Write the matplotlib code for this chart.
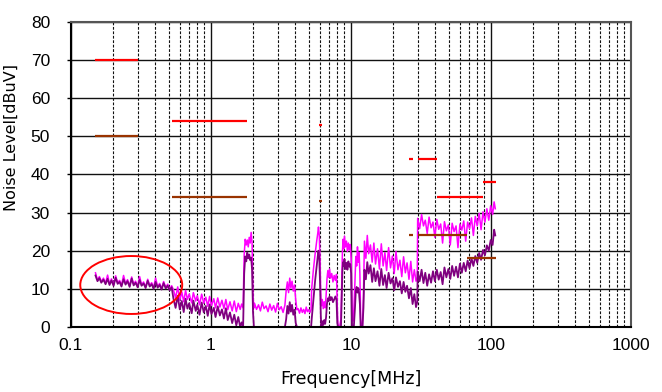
import matplotlib
matplotlib.use("Agg")
import matplotlib.pyplot as plt
from matplotlib.patches import Ellipse
from matplotlib.ticker import LogLocator, FixedLocator, NullFormatter

plt.rcParams['font.family'] = ['Liberation Sans Narrow', 'Liberation Sans', 'DejaVu Sans']

# 测量频点 (MHz)
freq = [
    0.150, 0.155, 0.160, 0.165, 0.171, 0.177, 0.183, 0.189, 0.195, 0.202,
    0.209, 0.216, 0.223, 0.230, 0.238, 0.246, 0.254, 0.263, 0.272, 0.281,
    0.290, 0.300, 0.310, 0.320, 0.331, 0.342, 0.354, 0.366, 0.378, 0.390,
    0.403, 0.417, 0.431, 0.445, 0.460, 0.476, 0.492, 0.508, 0.525,
    0.54, 0.56, 0.58, 0.60, 0.62, 0.64, 0.66, 0.68, 0.70, 0.73,
    0.75, 0.78, 0.80, 0.83, 0.86, 0.89, 0.92, 0.95, 0.98, 1.01,
    1.05, 1.08, 1.12, 1.16, 1.20, 1.24, 1.28, 1.32, 1.37, 1.42,
    1.47, 1.52, 1.57, 1.62, 1.66, 1.70,
    1.73, 1.76, 1.79, 1.82, 1.85, 1.88, 1.91, 1.94, 1.97, 2.00, 2.03,
    2.05, 2.12, 2.19, 2.26, 2.33, 2.40, 2.48, 2.56, 2.64, 2.72,
    2.81, 2.90, 2.99, 3.08, 3.18, 3.28, 3.38,
    3.45, 3.52, 3.59, 3.66, 3.73, 3.80, 3.88, 3.96, 4.04, 4.12,
    4.2, 4.3, 4.4, 4.5, 4.6, 4.7, 4.8, 4.9, 5.0, 5.1, 5.2,
    5.25, 5.4, 5.55, 5.7, 5.8, 5.87, 5.95, 6.02, 6.1,
    6.15, 6.25, 6.35, 6.45, 6.55, 6.65, 6.75, 6.85, 6.95, 7.05,
    7.15, 7.3, 7.45, 7.6, 7.75, 7.9, 8.0, 8.1, 8.3, 8.5,
    8.7, 8.8, 8.9, 9.0, 9.15, 9.3, 9.45, 9.6, 9.75, 9.9,
    10.05, 10.2, 10.35, 10.5, 10.7, 10.85, 11.0, 11.15, 11.3, 11.45,
    11.6, 11.75, 11.9, 12.1, 12.3,
    12.5, 12.8, 13.1, 13.4, 13.8, 14.2, 14.6, 15.0, 15.5, 16.0,
    16.5, 17.0, 17.5, 18.0, 18.6, 19.2, 19.8, 20.4, 21.0, 21.7,
    22.4, 23.1, 23.8, 24.5, 25.2, 26.0, 26.8, 27.6, 28.4, 29.2, 29.8,
    30.0, 31.0, 32.0, 33.0, 34.0, 35.1, 36.2, 37.4, 38.6, 39.8,
    41.1, 42.4, 43.8, 45.2, 46.6, 48.1, 49.7, 51.3, 52.9, 54.6,
    56.4, 58.2, 60.1, 62.0, 64.0, 66.1, 68.2, 70.4, 72.7, 75.0,
    77.4, 79.9, 82.5, 85.1, 87.9, 90.7, 93.6, 96.6, 99.7, 102.9,
    105.5, 107.5,
]

# 峰值检波 (粉色)
peak = [
    14.2, 12.3, 13.2, 11.9, 12.8, 11.5, 13.6, 11.3, 12.6, 11.1,
    13.4, 11.6, 12.2, 10.9, 13.5, 11.4, 12.4, 10.8, 13.1, 11.2,
    12.0, 10.7, 13.2, 11.1, 11.8, 10.5, 12.5, 10.9, 11.6, 10.3,
    12.8, 10.6, 11.4, 10.1, 11.9, 10.4, 11.2, 9.9, 10.8,
    9.8, 7.6, 10.5, 7.0, 9.2, 6.6, 9.6, 7.2, 8.6, 6.3,
    9.0, 6.8, 8.2, 5.8, 8.6, 6.2, 7.8, 5.4, 8.0, 5.6,
    7.4, 5.0, 7.6, 5.2, 7.0, 4.8, 7.2, 4.5, 6.6, 4.2,
    6.8, 4.0, 6.2, 4.6, 6.0, 5.0,
    19.0, 23.0, 21.5, 22.8, 21.0, 23.5, 22.0, 24.8, 22.0, 8.0, 5.0,
    6.2, 4.6, 5.8, 4.2, 6.5, 4.8, 5.5, 4.0, 6.0, 4.4,
    5.6, 3.9, 6.2, 4.5, 5.3, 3.8, 5.7,
    9.5, 11.8, 9.0, 12.8, 10.2, 12.0, 9.4, 11.0, 7.0, 4.5,
    4.8, 3.6, 5.0, 3.8, 4.6, 3.5, 5.2, 4.0, 4.5, 3.8, 4.6,
    10.0, 15.0, 19.0, 22.5, 24.5, 26.2, 24.0, 18.0, 8.0,
    5.5, 7.2, 4.8, 6.6, 5.0, 8.0, 12.5, 14.8, 13.0, 15.2,
    12.8, 14.0, 11.8, 13.5, 12.2, 13.8, 5.0, 0.0, 0.0, 2.0,
    19.5, 23.0, 20.5, 23.8, 21.0, 22.5, 19.8, 22.0, 20.2, 21.6,
    18.0, 3.0, 1.5, 4.5, 12.0, 18.5, 16.0, 21.0, 17.0, 19.5,
    14.0, 2.0, 0.0, 0.0, 8.0,
    22.5, 18.0, 24.0, 19.2, 21.5, 17.0, 22.0, 16.5, 20.5, 15.2,
    21.8, 16.0, 19.5, 14.8, 20.8, 15.5, 18.6, 14.0, 19.8, 15.0,
    17.5, 13.2, 18.4, 14.2, 16.8, 12.5, 17.2, 11.8, 15.0, 12.0, 13.0,
    28.5, 25.8, 29.5, 26.5, 28.0, 24.5, 28.8, 26.0, 27.5, 23.5,
    28.2, 25.6, 27.0, 22.0, 27.6, 25.2, 26.8, 21.5, 27.2, 25.0,
    26.5, 20.8, 27.0, 25.4, 27.8, 22.5, 27.5, 25.8, 28.6, 24.0,
    29.0, 26.5, 29.8, 25.5, 30.2, 27.5, 31.0, 28.0, 31.8, 29.5,
    32.8, 31.0,
]

# 平均值检波 (紫色)
avg = [
    13.5, 12.0, 12.8, 11.6, 12.4, 11.2, 12.6, 11.0, 12.2, 10.8,
    12.9, 11.3, 11.8, 10.6, 12.5, 11.1, 12.0, 10.5, 12.7, 10.9,
    11.6, 10.4, 12.3, 10.8, 11.4, 10.2, 12.1, 10.6, 11.2, 10.0,
    11.8, 10.3, 11.0, 9.8, 11.5, 10.1, 10.8, 9.6, 10.4,
    7.5, 5.0, 8.2, 4.6, 6.8, 3.9, 7.4, 4.8, 6.2, 3.6,
    6.9, 4.2, 5.8, 3.2, 6.4, 3.8, 5.5, 2.9, 5.9, 3.4,
    5.0, 2.6, 5.4, 3.0, 4.6, 2.2, 4.9, 1.8, 3.8, 1.0,
    3.2, 0.4, 2.6, 0.0, 1.2, 0.0,
    14.0, 18.5, 17.2, 19.5, 18.0, 19.0, 17.5, 18.2, 15.0, 4.0, 0.0,
    0.0, 0.0, 0.0, 0.0, 0.0, 0.0, 0.0, 0.0, 0.0, 0.0,
    0.0, 0.0, 0.0, 0.0, 0.0, 0.0, 0.0,
    2.0, 5.5, 3.5, 6.5, 4.0, 5.8, 3.2, 4.5, 1.0, 0.0,
    0.0, 0.0, 0.0, 0.0, 0.0, 0.0, 0.0, 0.0, 0.0, 0.0, 0.0,
    2.0, 7.0, 12.0, 16.0, 18.5, 20.0, 18.0, 12.0, 3.0,
    0.0, 1.5, 0.5, 1.8, 0.8, 2.5, 6.0, 7.5, 6.8, 8.0,
    7.0, 7.8, 6.5, 7.2, 8.0, 7.0, 1.0, 0.0, 0.0, 0.0,
    14.5, 17.0, 16.0, 17.8, 15.2, 16.8, 15.0, 17.2, 15.8, 16.5,
    14.0, 0.0, 0.0, 0.0, 5.0, 9.5, 10.5, 9.0, 10.2, 8.8,
    6.0, 0.0, 0.0, 0.0, 5.0,
    15.0, 12.5, 17.0, 14.0, 16.2, 11.8, 15.4, 12.0, 14.6, 10.8,
    15.2, 11.0, 13.6, 10.2, 14.2, 11.4, 12.8, 9.6, 13.0, 10.5,
    12.0, 8.8, 11.8, 9.2, 10.8, 7.5, 10.2, 6.0, 8.6, 5.2, 6.5,
    14.5, 12.0, 15.0, 11.5, 14.2, 10.8, 13.8, 11.6, 14.6, 12.0,
    15.0, 12.4, 14.4, 11.2, 15.6, 13.0, 15.2, 12.6, 16.0, 13.4,
    15.8, 13.0, 16.6, 14.2, 16.8, 14.6, 17.4, 15.4, 18.0, 16.0,
    18.6, 16.8, 19.4, 17.6, 20.2, 18.8, 21.4, 20.0, 22.8, 21.5,
    25.5, 24.0,
]

# 限值线 (起始MHz, 终止MHz, dBuV)
pk_lim_start = [0.15, 0.53, 5.9, 26, 30, 41, 87.5]
pk_lim_stop = [0.30, 1.8, 6.2, 28, 41, 88, 108]
pk_lim_level = [70, 54, 53, 44, 44, 34, 38]

av_lim_start = [0.15, 0.53, 5.9, 26, 30, 68]
av_lim_stop = [0.30, 1.8, 6.2, 28, 68, 108]
av_lim_level = [50, 34, 33, 24, 24, 18]

# 红圈标注位置
mark_freq = 0.27
mark_level = 11.0

fig = plt.figure(figsize=(6.62, 3.92), dpi=100)
ax = fig.add_axes([0.107, 0.166, 0.846, 0.778])

ax.plot(freq, peak, color="#FF00FF", linewidth=1.1)
ax.plot(freq, avg, color="#800080", linewidth=1.3)

ax.hlines(pk_lim_level, pk_lim_start, pk_lim_stop, colors="#FF0000", linewidth=1.6, zorder=3)
ax.hlines(av_lim_level, av_lim_start, av_lim_stop, colors="#993300", linewidth=1.6, zorder=3)

ax.set_xscale("log")
ax.set_xlim(0.1, 1000)
ax.set_ylim(0, 80)

ax.xaxis.set_major_locator(FixedLocator([0.1, 1, 10, 100, 1000]))
ax.set_xticklabels(["0.1", "1", "10", "100", "1000"])
ax.xaxis.set_minor_locator(LogLocator(base=10, subs=range(2, 10), numticks=20))
ax.xaxis.set_minor_formatter(NullFormatter())
ax.set_yticks(range(0, 81, 10))

ax.grid(True, which="major", axis="both", color="#111111", linewidth=1.0, linestyle="-")
ax.grid(True, which="minor", axis="x", color="#111111", linewidth=0.8, linestyle=(0, (2.5, 1.5)))
ax.set_axisbelow(True)

ax.tick_params(axis="x", which="both", length=0, pad=8, labelsize=12.5)
ax.tick_params(axis="y", length=3, width=1, pad=12, labelsize=12.5, direction="out")

for s in ["left", "bottom"]:
    ax.spines[s].set_color("black")
    ax.spines[s].set_linewidth(1.5)
for s in ["top", "right"]:
    ax.spines[s].set_color("#555555")
    ax.spines[s].set_linewidth(1.5)

ax.set_xlabel("Frequency[MHz]", fontsize=12.5, labelpad=12, family=["DejaVu Sans"])
ax.set_ylabel("Noise Level[dBuV]", fontsize=11.5, family=["DejaVu Sans"])
ax.yaxis.set_label_coords(-0.093, 0.62)

# 红圈（轴坐标中画，避免对数轴变形）
cx, cy = ax.transAxes.inverted().transform(ax.transData.transform((mark_freq, mark_level)))
ax.add_patch(Ellipse((cx, cy), 0.182, 0.19, transform=ax.transAxes,
                     fill=False, edgecolor="#FF0000", linewidth=1.4, zorder=4))

fig.savefig("out.png", dpi=100)
